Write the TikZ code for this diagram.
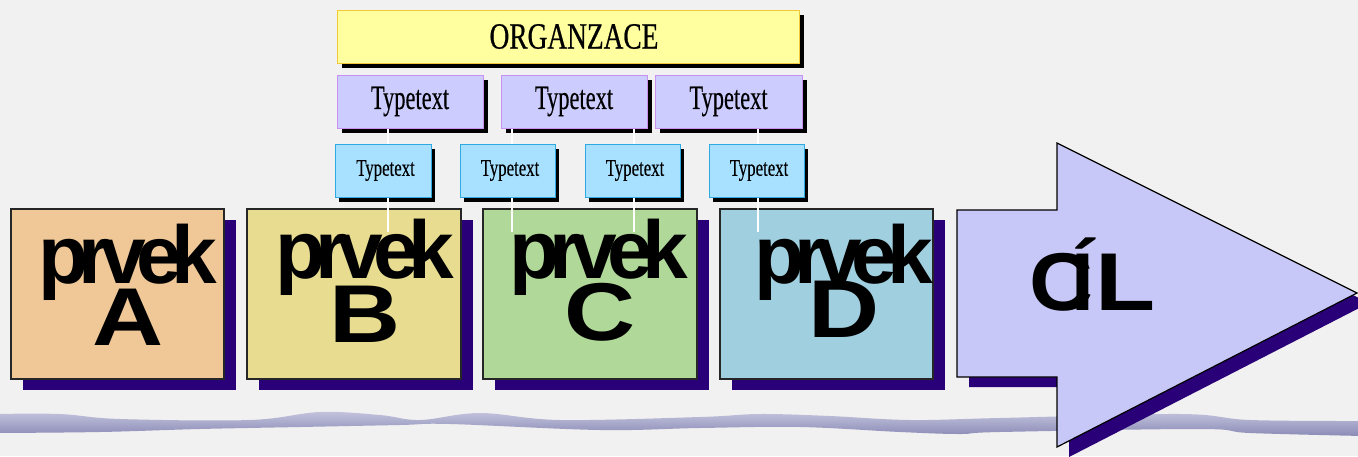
\documentclass[tikz,border=0pt]{standalone}
\usepackage{fontspec}
\setmainfont{Liberation Serif}
\newfontfamily\bigsans{Liberation Sans}
\newfontfamily\orgfont[FakeStretch=0.74,FakeBold=0.6]{Liberation Serif}
\newfontfamily\typfontA[FakeStretch=0.66,FakeBold=0.3]{Liberation Serif}
\newfontfamily\typfontB[FakeStretch=0.70,FakeBold=0.3]{Liberation Serif}
\usetikzlibrary{shadows}
\definecolor{bg}{HTML}{F1F1F1}
\definecolor{bandtop}{HTML}{C4C4DE}
\definecolor{bandbot}{HTML}{8A8AB6}
\definecolor{orgfill}{HTML}{FFFFA0}
\definecolor{orgline}{HTML}{F0C838}
\definecolor{r2fill}{HTML}{CCCCFF}
\definecolor{r2line}{HTML}{C890F0}
\definecolor{r3fill}{HTML}{A8E0FF}
\definecolor{r3line}{HTML}{30A8E0}
\definecolor{afill}{HTML}{F0C898}
\definecolor{bfill}{HTML}{E8DC90}
\definecolor{cfill}{HTML}{B0D898}
\definecolor{dfill}{HTML}{A0D0E0}
\definecolor{navy}{HTML}{2A0078}
\definecolor{arrfill}{HTML}{C8C8F8}
\newcommand\prv{p\kern-10pt r\kern-10pt v\kern-10pt e\kern-10pt k}
\newcommand\capl[1]{\scalebox{1.2}[1]{#1}}
\newcommand\ptwo[4]{\vbox{\baselineskip=#1pt\lineskiplimit=-500pt
  \hbox to 210pt{\hss\prv\kern#2pt\hss}\hbox to 210pt{\hss\kern#3pt\capl{#4}\hss}}}
\begin{document}
\begin{tikzpicture}[x=1pt,y=-1pt,
  orgbox/.style={fill=orgfill,draw=orgline,line width=1pt,inner sep=0pt,
    minimum width=462pt,minimum height=53pt,
    drop shadow={fill=black,opacity=1,shadow xshift=5pt,shadow yshift=-5pt},
    font=\orgfont\fontsize{37}{37}\selectfont},
  r2box/.style={fill=r2fill,draw=r2line,line width=1pt,inner sep=0pt,
    minimum width=146pt,minimum height=53pt,
    drop shadow={fill=black,opacity=1,shadow xshift=5pt,shadow yshift=-5pt},
    font=\typfontA\fontsize{34}{34}\selectfont},
  r3box/.style={fill=r3fill,draw=r3line,line width=1pt,inner sep=0pt,
    minimum width=95pt,minimum height=53pt,
    drop shadow={fill=black,opacity=1,shadow xshift=4pt,shadow yshift=-5pt},
    font=\typfontB\fontsize{24}{24}\selectfont},
  pbox/.style={draw=black!85,line width=1.5pt,inner sep=0pt,
    minimum width=213pt,minimum height=170pt,
    drop shadow={fill=navy,opacity=1,shadow xshift=12pt,shadow yshift=-11pt}},
  ptext/.style={inner sep=0pt,anchor=base,font=\bigsans\bfseries\fontsize{82}{82}\selectfont},
  wline/.style={draw=white,line width=1.2pt},
  arrowshape/.style={fill=arrfill,draw=black,line width=1.2pt,line join=miter}
]
\useasboundingbox (0,0) rectangle (1358,456);
\fill[bg] (0,0) rectangle (1358,456);
% wavy band
\shade[top color=bandtop,bottom color=bandbot]
  plot[smooth,tension=0.6] coordinates {(-5,414) (60,414) (120,419) (250,420) (320,412) (380,415) (420,420) (480,413) (560,420) (700,417) (760,414) (830,416) (910,420) (1000,418) (1180,414) (1250,420) (1363,421)}
  -- plot[smooth,tension=0.6] coordinates {(1363,436) (1250,433) (1200,429) (1000,432) (960,434) (900,432) (800,427) (700,428) (600,430) (450,424) (400,425) (300,427) (200,429) (100,432) (-5,433)}
  -- cycle;

% top rows
\node[orgbox] (org) at (568,36.5) {\hspace*{12pt}ORGANZACE};
\node[r2box] (b1) at (410,101.5) {Typetext};
\node[r2box] (b2) at (574,101.5) {Typetext};
\node[r2box,minimum width=147pt] (b3) at (728.5,101.5) {Typetext};
\node[r3box,minimum width=96pt] (s1) at (383,170.5) {\hspace*{5pt}Typetext};
\node[r3box] (s2) at (507.5,170.5) {\hspace*{5pt}Typetext};
\node[r3box] (s3) at (632.5,170.5) {\hspace*{5pt}Typetext};
\node[r3box] (s4) at (756.5,170.5) {\hspace*{5pt}Typetext};

% element boxes
\node[pbox,fill=afill] (pa) at (117.5,294) {};
\node[pbox,fill=bfill,minimum width=214pt] (pb) at (354,294) {};
\node[pbox,fill=cfill,minimum width=214pt] (pc) at (590,294) {};
\node[pbox,fill=dfill] (pd) at (826.5,294) {};

% white connectors
\coordinate (e1) at (388,232);
\coordinate (e2) at (512,232);
\coordinate (e3) at (634,232);
\coordinate (e4) at (758,232);
\draw[wline] ([xshift=5pt]s1.north) -- ([xshift=5pt]s1.north |- b1.south);
\draw[wline] ([xshift=4.5pt]s2.north) -- ([xshift=4.5pt]s2.north |- b2.south);
\draw[wline] ([xshift=1.5pt]s3.north) -- ([xshift=1.5pt]s3.north |- b2.south);
\draw[wline] ([xshift=1.5pt]s4.north) -- ([xshift=1.5pt]s4.north |- b3.south);
\draw[wline] ([xshift=5pt]s1.south) -- (e1);
\draw[wline] ([xshift=4.5pt]s2.south) -- (e2);
\draw[wline] ([xshift=1.5pt]s3.south) -- (e3);
\draw[wline] ([xshift=1.5pt]s4.south) -- (e4);

% texts in element boxes (two lines each)
\node[ptext] (ta) at (128,345) {\ptwo{62}{0}{0}{A}};
\node[ptext] (tb) at (362,342) {\ptwo{64}{-6}{6}{B}};
\node[ptext] (tc) at (599,340) {\ptwo{62}{0}{2}{C}};
\node[ptext] (td) at (843.5,337) {\ptwo{54}{0}{2}{D}};

% goal arrow
\fill[navy,shift={(12,10)}] (957,210) -- (1057,210) -- (1057,143) -- (1357,293) -- (1057,447) -- (1057,377) -- (957,377) -- cycle;
\draw[arrowshape] (957,210) -- (1057,210) -- (1057,143) -- (1357,293) -- (1057,447) -- (1057,377) -- (957,377) -- cycle;
\node[inner sep=0pt,anchor=base west,font=\bigsans\bfseries\fontsize{82}{82}\selectfont] (cil) at (1029.5,310) {\scalebox{1.08}[1]{C}\kern-22pt Í\kern1pt\capl{L}};
\end{tikzpicture}
\end{document}
